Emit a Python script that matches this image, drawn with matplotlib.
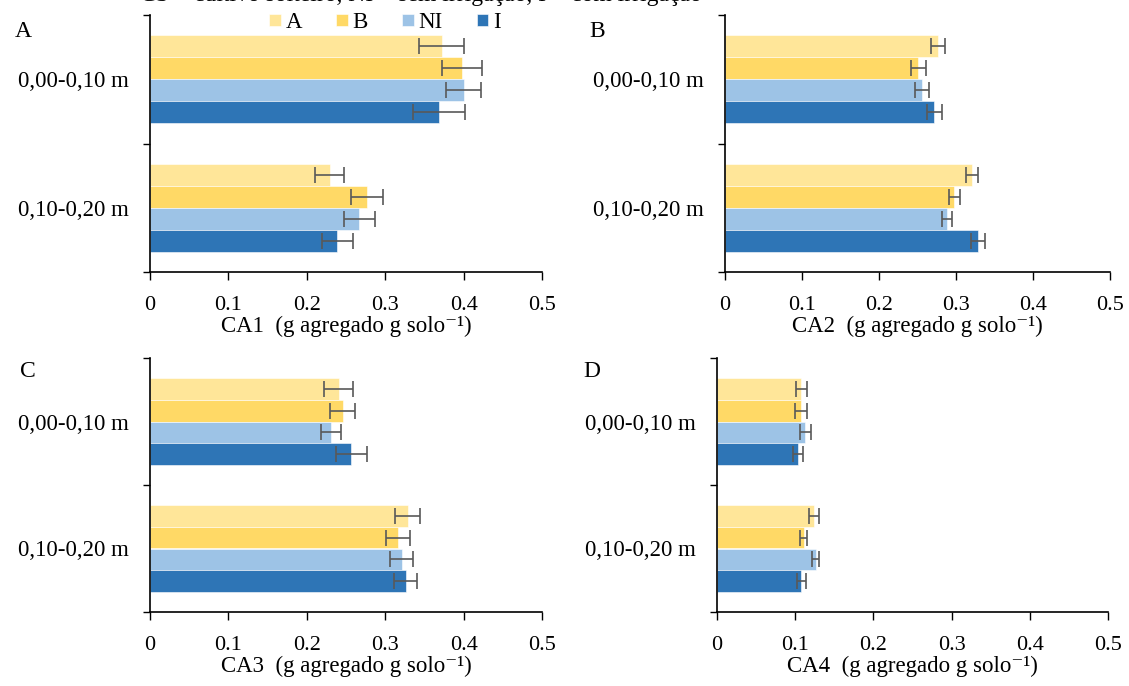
import matplotlib
matplotlib.use("Agg")
import matplotlib.pyplot as plt
import numpy as np

plt.rcParams["font.family"] = ["Liberation Serif", "DejaVu Serif"]

profundidades = ["0,00-0,10 m", "0,10-0,20 m"]
tratamentos = ["A", "B", "NI", "I"]
cores = ["#FFE699", "#FFD966", "#9DC3E6", "#2E75B6"]

# valores por tratamento: [0,00-0,10, 0,10-0,20]
ca1 = {"A": [0.372, 0.229], "B": [0.398, 0.277], "NI": [0.400, 0.267], "I": [0.369, 0.239]}
ca1_err = {"A": [0.029, 0.018], "B": [0.025, 0.020], "NI": [0.022, 0.020], "I": [0.033, 0.020]}
ca2 = {"A": [0.277, 0.321], "B": [0.251, 0.298], "NI": [0.256, 0.288], "I": [0.272, 0.329]}
ca2_err = {"A": [0.009, 0.008], "B": [0.010, 0.007], "NI": [0.009, 0.0065], "I": [0.010, 0.009]}
ca3 = {"A": [0.241, 0.329], "B": [0.246, 0.316], "NI": [0.231, 0.321], "I": [0.257, 0.326]}
ca3_err = {"A": [0.0185, 0.016], "B": [0.016, 0.015], "NI": [0.013, 0.015], "I": [0.020, 0.015]}
ca4 = {"A": [0.108, 0.124], "B": [0.107, 0.111], "NI": [0.113, 0.126], "I": [0.103, 0.108]}
ca4_err = {"A": [0.0074, 0.0064], "B": [0.0075, 0.0045], "NI": [0.0074, 0.005], "I": [0.0064, 0.006]}

W, H = 1129, 686
paineis = [
    ("A", "CA1", ca1, ca1_err, [150 / W, 1 - 272 / H, 392 / W, 257 / H], (15, 37)),
    ("B", "CA2", ca2, ca2_err, [725 / W, 1 - 272 / H, 385 / W, 257 / H], (589, 37)),
    ("C", "CA3", ca3, ca3_err, [150 / W, 1 - 612 / H, 392 / W, 254 / H], (20, 377)),
    ("D", "CA4", ca4, ca4_err, [717 / W, 1 - 612 / H, 391 / W, 254 / H], (583, 377)),
]

fig = plt.figure(figsize=(W / 100, H / 100), dpi=100)
h = 0.172
y = np.arange(len(profundidades))
handles = []
for letra, nome, vals, errs, rect, lp in paineis:
    ax = fig.add_axes(rect)
    for i, t in enumerate(tratamentos):
        pos = y + (i - 1.5) * h
        b = ax.barh(pos, vals[t], height=h, color=cores[i], edgecolor="white", linewidth=0.4,
                    xerr=errs[t], error_kw=dict(ecolor="#595959", elinewidth=1.2, capsize=6, capthick=1.2))
        if letra == "A":
            handles.append(b)
    ax.set_xlim(0, 0.5)
    ax.set_ylim(1.5, -0.5)
    ax.set_xticks([0, 0.1, 0.2, 0.3, 0.4, 0.5])
    ax.set_xticklabels(["0", "0.1", "0.2", "0.3", "0.4", "0.5"], fontsize=16)
    ax.set_yticks([-0.5, 0.5, 1.5])
    ax.set_yticklabels([])
    ax.set_yticks(y, minor=True)
    ax.set_yticklabels(profundidades, minor=True, fontsize=16.5)
    ax.tick_params(axis="y", which="minor", length=0, pad=15)
    ax.tick_params(axis="y", which="major", length=5, width=1, direction="out")
    ax.tick_params(axis="x", length=6, width=1, direction="out", pad=11)
    for s in ["top", "right"]:
        ax.spines[s].set_visible(False)
    for s in ["left", "bottom"]:
        ax.spines[s].set_linewidth(1.2)
    ax.set_xlabel(nome + "  (g agregado g solo\u207b\u00b9)", fontsize=16.5, labelpad=1)
    fig.text(lp[0] / W, 1 - lp[1] / H, letra, fontsize=17, va="baseline")

fig.legend(handles, tratamentos, loc="center", bbox_to_anchor=(0.341, 1 - 23 / H), ncol=4,
           frameon=False, fontsize=16.5, handlelength=0.5, handleheight=0.45, handletextpad=0.2,
           columnspacing=1.5, borderaxespad=0)
fig.text(140 / W, 1 - 0.5 / H, "CS = cultivo solteiro, NI = sem irrigação, I = com irrigação",
         fontsize=17, va="baseline", color="black")

plt.savefig("out.png", dpi=100)
